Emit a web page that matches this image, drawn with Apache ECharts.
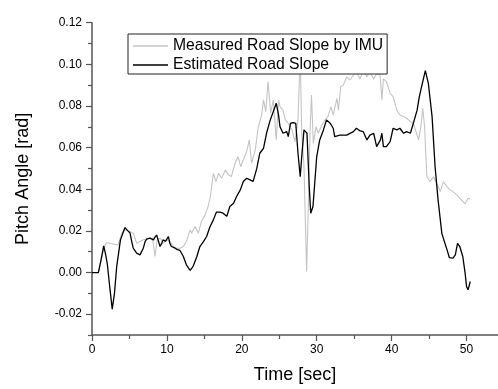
<!DOCTYPE html>
<html><head><meta charset="utf-8">
<script src="https://cdn.jsdelivr.net/npm/echarts@6/dist/echarts.min.js"></script>
<style>html,body{margin:0;padding:0;background:#fff}#c{width:498px;height:389px}</style>
</head><body><div id="c"></div>
<script>
var seriesNames = ['Measured Road Slope by IMU', 'Estimated Road Slope'];
var xLabelValues = [0, 10, 20, 30, 40, 50];
var xMinorTickValues = [5, 15, 25, 35, 45];
var yLabelValues = [-0.02, 0, 0.02, 0.04, 0.06, 0.08, 0.10, 0.12];
var yMinorTickValues = [-0.03, -0.01, 0.01, 0.03, 0.05, 0.07, 0.09, 0.11];

var estT = [0,0.85,1.2,1.56,1.8,2.05,2.4,2.7,3.0,3.3,3.8,4.4,4.8,5.07,5.3,5.5,5.96,6.4,6.85,7.1,7.3,7.5,7.74,8.0,8.2,8.4,8.63,8.8,9.08,9.3,9.5,9.8,10.2,10.4,10.6,11.1,11.4,11.75,12.2,12.6,13.1,13.5,14.0,14.4,14.9,15.3,15.75,16.2,16.6,17.1,17.5,18.0,18.4,18.9,19.3,19.8,20.2,20.65,21.1,21.5,22.0,22.4,22.9,23.3,23.8,24.2,24.6,24.9,25.1,25.5,26.0,26.2,26.5,26.9,27.2,27.5,27.8,28.0,28.3,28.7,29.0,29.2,29.5,29.7,30.0,30.4,30.9,31.3,31.8,32.2,32.4,33.1,34.0,34.9,35.3,35.8,36.2,36.7,37.1,37.6,38.0,38.5,38.7,38.9,39.3,39.8,40.2,40.7,41.1,41.6,42.0,42.5,42.9,43.4,43.7,44.0,44.5,44.9,45.4,45.8,46.2,46.7,46.9,47.4,47.7,48.2,48.5,48.8,49.1,49.5,49.8,50.0,50.2,50.5];
var estV = [0,0,0.006,0.0128,0.009,0.004,-0.008,-0.0176,-0.010,0.003,0.0157,0.0216,0.020,0.019,0.015,0.0117,0.0093,0.0085,0.0117,0.015,0.016,0.0165,0.0165,0.017,0.0157,0.017,0.018,0.016,0.0125,0.014,0.0157,0.015,0.0173,0.014,0.0125,0.0117,0.011,0.0106,0.0077,0.0037,0.001,0.003,0.0077,0.0125,0.015,0.0173,0.022,0.0253,0.029,0.029,0.0285,0.027,0.0317,0.0333,0.0365,0.0397,0.0437,0.0453,0.0445,0.0437,0.05,0.0573,0.0597,0.0669,0.0733,0.0773,0.0813,0.0757,0.07,0.0669,0.0677,0.0653,0.0717,0.072,0.0717,0.0573,0.046,0.0557,0.0685,0.0669,0.0413,0.0285,0.0317,0.0413,0.0557,0.0637,0.0685,0.0733,0.0717,0.0693,0.0653,0.066,0.066,0.0677,0.0693,0.068,0.0677,0.0637,0.066,0.0669,0.0605,0.0637,0.0669,0.0605,0.0605,0.0629,0.0693,0.0685,0.0693,0.0669,0.0677,0.0669,0.0717,0.078,0.0845,0.0893,0.097,0.0909,0.0749,0.0509,0.0349,0.0189,0.0165,0.0109,0.0072,0.0069,0.0085,0.014,0.0125,0.0077,0,-0.0067,-0.0083,-0.0043];

var measT = [0,0.85,1.3,1.6,1.96,2.85,3.5,3.96,4.4,5.07,5.5,5.96,6.4,6.85,7.5,8.1,8.4,8.7,9.1,9.5,10.0,10.4,10.9,11.3,11.75,12.2,12.6,13.1,13.3,13.75,14.2,14.6,15.1,15.5,15.8,16.2,16.55,16.9,17.3,17.8,18.2,18.6,19.1,19.5,19.85,20.2,20.65,21.0,21.3,21.8,22.2,22.65,22.9,23.2,23.5,23.85,24.2,24.6,24.9,25.1,25.5,25.8,26.2,26.7,27.1,27.5,27.8,28.0,28.3,28.65,28.9,29.1,29.3,29.55,29.9,30.2,30.7,31.1,31.5,31.9,32.2,32.7,32.9,33.2,33.55,34.0,34.45,34.9,35.3,35.8,36.2,36.7,37.1,37.6,38.0,38.45,38.7,38.9,39.3,39.8,40.2,40.7,41.1,41.6,42.0,42.5,42.9,43.6,43.9,44.15,44.4,44.7,45.1,45.6,46.0,46.5,46.9,47.4,47.8,48.2,48.7,49.1,49.8,50.2,50.5];
var measV = [0,0,0.007,0.012,0.0144,0.0136,0.0133,0.0189,0.0205,0.0197,0.0189,0.0141,0.0149,0.0157,0.0165,0.0165,0.0077,0.0157,0.0165,0.0141,0.0157,0.0149,0.0125,0.0117,0.0117,0.0125,0.0149,0.0205,0.0189,0.0221,0.0189,0.0245,0.0277,0.0317,0.0365,0.0477,0.0437,0.0477,0.0453,0.0493,0.0469,0.0461,0.0525,0.0557,0.0509,0.0541,0.0581,0.0637,0.0525,0.0589,0.07,0.0757,0.0829,0.0773,0.0917,0.0765,0.0829,0.0637,0.0829,0.0797,0.078,0.0733,0.0717,0.0685,0.0629,0.0733,0.105,0.067,0.0509,0.0005,0.035,0.0669,0.0853,0.062,0.07,0.0669,0.0709,0.0733,0.0749,0.0797,0.0757,0.0837,0.078,0.0893,0.09,0.094,0.0925,0.0949,0.0965,0.093,0.097,0.094,0.0965,0.093,0.0955,0.095,0.083,0.093,0.0917,0.0861,0.0845,0.078,0.0757,0.0749,0.0741,0.0725,0.0717,0.0637,0.07,0.0789,0.07,0.046,0.0437,0.046,0.0429,0.0389,0.0437,0.0413,0.0397,0.0389,0.0373,0.0357,0.033,0.0357,0.0352];

function pairs(t, v) { return t.map(function (x, i) { return [x, v[i]]; }); }

var axisColor = '#555';
var chart = echarts.init(document.getElementById('c'), null, {renderer: 'canvas'});
chart.setOption({
  animation: false,
  backgroundColor: '#fff',
  textStyle: {fontFamily: 'Liberation Sans, Arial, sans-serif'},
  grid: {left: 92, right: 0, top: 22.7, bottom: 53.7, containLabel: false},
  legend: {
    data: [
      {name: seriesNames[0], icon: 'rect', itemStyle: {color: '#c4c4c4'}},
      {name: seriesNames[1], icon: 'rect', itemStyle: {color: '#000'}}
    ],
    orient: 'vertical',
    left: 128, top: 34,
    itemWidth: 35, itemHeight: 1.3, itemGap: 1,
    padding: [3, 4, 0, 5],
    borderColor: '#222', borderWidth: 1,
    backgroundColor: '#fff',
    textStyle: {fontSize: 15.7, color: '#000', lineHeight: 18, fontFamily: 'Liberation Sans, Arial, sans-serif'},
    z: 10
  },
  xAxis: [{
    type: 'value', min: 0, max: 54.2,
    name: 'Time [sec]', nameLocation: 'middle', nameGap: 31,
    nameTextStyle: {fontSize: 18, color: '#000'},
    axisLine: {show: true, onZero: false, lineStyle: {color: axisColor, width: 1.5}},
    axisTick: {show: true, length: 6, customValues: xLabelValues, lineStyle: {color: axisColor, width: 1.2}},
    axisLabel: {customValues: xLabelValues, fontSize: 12, color: '#000', margin: 9},
    splitLine: {show: false}
  }, {
    type: 'value', min: 0, max: 54.2, position: 'bottom',
    axisLine: {show: false, onZero: false},
    axisTick: {show: true, length: 4, customValues: xMinorTickValues, lineStyle: {color: axisColor, width: 1.2}},
    axisLabel: {show: false},
    splitLine: {show: false}
  }],
  yAxis: [{
    type: 'value', min: -0.03, max: 0.12,
    name: 'Pitch Angle [rad]', nameLocation: 'middle', nameGap: 60,
    nameTextStyle: {fontSize: 18, color: '#000'},
    axisLine: {show: true, onZero: false, lineStyle: {color: axisColor, width: 1.5}},
    axisTick: {show: true, length: 6, customValues: yLabelValues, lineStyle: {color: axisColor, width: 1.2}},
    axisLabel: {customValues: yLabelValues, fontSize: 12, color: '#000', margin: 10,
      formatter: function (v) { return v.toFixed(2); }},
    splitLine: {show: false}
  }, {
    type: 'value', min: -0.03, max: 0.12, position: 'left',
    axisLine: {show: false, onZero: false},
    axisTick: {show: true, length: 4, customValues: yMinorTickValues, lineStyle: {color: axisColor, width: 1.2}},
    axisLabel: {show: false},
    splitLine: {show: false}
  }],
  series: [{
    name: seriesNames[0], type: 'line', symbol: 'none', showSymbol: false,
    data: pairs(measT, measV),
    lineStyle: {color: '#c4c4c4', width: 1.1}, itemStyle: {color: '#c4c4c4'},
    z: 2
  }, {
    name: seriesNames[1], type: 'line', symbol: 'none', showSymbol: false,
    data: pairs(estT, estV),
    lineStyle: {color: '#000', width: 1.3}, itemStyle: {color: '#000'},
    z: 3
  }]
});
</script></body></html>
